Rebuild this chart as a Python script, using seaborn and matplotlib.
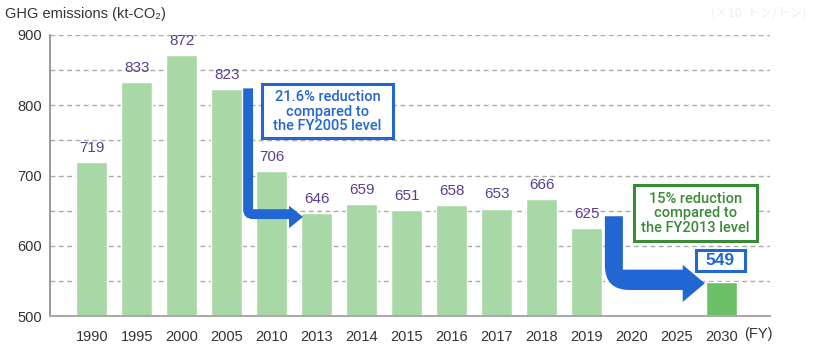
import matplotlib
matplotlib.use("Agg")
import matplotlib.pyplot as plt
import matplotlib.transforms as mtransforms
from matplotlib.path import Path
from matplotlib.patches import PathPatch, Rectangle
import numpy as np
import pandas as pd
import seaborn as sns

# Fiscal years and GHG emissions (kt-CO2); 2020 and 2025 have no bar
years = ["1990", "1995", "2000", "2005", "2010", "2013", "2014", "2015",
         "2016", "2017", "2018", "2019", "2020", "2025", "2030"]
emissions = [719, 833, 872, 823, 706, 646, 659, 651,
             658, 653, 666, 625, np.nan, np.nan, 549]
target_year = "2030"

y_ticks = [500, 600, 700, 800, 900]

note_2005 = "21.6% reduction\ncompared to\nthe FY2005 level"
note_2013 = "15% reduction\ncompared to\nthe FY2013 level"

LIGHT_GREEN = "#a8d8a6"
DARK_GREEN = "#6bbf67"
LABEL_PURPLE = "#5b3f8f"
ARROW_BLUE = "#2166d3"
NOTE_GREEN = "#3a8a37"
TEXT = "#333333"
GRID = "#aaaaaa"

sns.set_theme(style="white")
plt.rcParams["font.family"] = ["Liberation Sans", "DejaVu Sans"]

df = pd.DataFrame({"year": years, "kt": emissions})
palette = {y: (DARK_GREEN if y == target_year else LIGHT_GREEN) for y in years}

fig = plt.figure(figsize=(8.14, 3.49), dpi=100)
ax = fig.add_axes([50 / 814, 1 - 316 / 349, 720 / 814, 281 / 349])

sns.barplot(data=df, x="year", y="kt", hue="year", palette=palette,
            order=years, hue_order=years, width=0.69, saturation=1,
            legend=False, ax=ax, zorder=2)

ax.set_xlim(-0.933, 15.07)
ax.set_ylim(500, 900)
ax.set_yticks(y_ticks)
ax.set_yticks(np.arange(550, 900, 100), minor=True)
ax.set_xlabel("")
ax.set_ylabel("")
ax.tick_params(axis="both", length=0, colors=TEXT, labelsize=10.5)
ax.tick_params(axis="x", pad=10)
ax.tick_params(axis="y", pad=6)
ax.grid(True, axis="y", which="both", color=GRID, linestyle=(0, (3.5, 2.5)),
        linewidth=1.0, zorder=0)
ax.set_axisbelow(True)

for side in ["top", "right"]:
    ax.spines[side].set_visible(False)
ax.spines["left"].set_color("#888888")
ax.spines["left"].set_linewidth(1.2)
ax.spines["bottom"].set_color("#aaaaaa")
ax.spines["bottom"].set_linewidth(1.5)

# value labels above bars
for i, (yr, v) in enumerate(zip(years, emissions)):
    if np.isnan(v) or yr == target_year:
        continue
    ax.text(i, v + 10, f"{v:.0f}", ha="center", va="bottom",
            color=LABEL_PURPLE, fontsize=11, zorder=5)

# boxed target value above the 2030 bar
ti = years.index(target_year)
tv = emissions[ti]
ax.add_patch(Rectangle((13.42, tv + 15), 1.09, 30, facecolor="white",
                       edgecolor=ARROW_BLUE, linewidth=2.2, zorder=6))
ax.text(13.965, tv + 30, f"{tv:.0f}", ha="center", va="center",
        color=ARROW_BLUE, fontsize=12.5, fontweight="bold", zorder=7)


def elbow_arrow(xl, xr, yt, ht, hb, hx, tip, htop, hbot, rx, ry, color):
    verts = [(xl, yt), (xr, yt), (xr, ht), (hx, ht), (hx, htop),
             (tip, (htop + hbot) / 2), (hx, hbot), (hx, hb),
             (xl + rx, hb), (xl, hb), (xl, hb + ry), (xl, yt)]
    codes = [Path.MOVETO, Path.LINETO, Path.LINETO, Path.LINETO, Path.LINETO,
             Path.LINETO, Path.LINETO, Path.LINETO, Path.LINETO,
             Path.CURVE3, Path.CURVE3, Path.CLOSEPOLY]
    ax.add_patch(PathPatch(Path(verts, codes), facecolor=color,
                           edgecolor="none", zorder=4))


elbow_arrow(3.36, 3.58, 824, 652, 638, 4.38, 4.69, 657, 625, 0.22, 14, ARROW_BLUE)
elbow_arrow(11.40, 11.80, 642, 566, 537, 13.13, 13.62, 573, 520, 0.55, 35, ARROW_BLUE)

# reduction notes
note_font = dict(family=["Roboto", "DejaVu Sans"], fontweight="medium",
                 fontsize=10.5, linespacing=1.02, ha="center", va="center",
                 zorder=7)
ax.add_patch(Rectangle((3.78, 753.4), 2.91, 76.8, facecolor="white",
                       edgecolor=ARROW_BLUE, linewidth=2.2, zorder=6))
ax.text(5.235, 791.0, note_2005, color=ARROW_BLUE, **note_font)

ax.add_patch(Rectangle((12.04, 606.8), 2.74, 79.7, facecolor="white",
                       edgecolor=NOTE_GREEN, linewidth=2.2, zorder=6))
ax.text(13.41, 646.0, note_2013, color=NOTE_GREEN, **note_font)

# axis captions
trans = mtransforms.blended_transform_factory(ax.transData, ax.transAxes)
ax.text(14.5, -0.064, "(FY)", transform=trans, ha="left", va="center",
        color=TEXT, fontsize=10.5)
fig.text(5 / 814, 1 - 14 / 349, "GHG emissions (kt-CO\u2082)", ha="left",
         va="center", color=TEXT, fontsize=10.5)
fig.text(806 / 814, 1 - 13 / 349, "(\u00d710  トン/トン)", ha="right",
         va="center", color="#eeeeee", fontsize=9,
         family=["Noto Sans CJK JP", "DejaVu Sans"])

fig.savefig("out.png", dpi=100, facecolor="white")
